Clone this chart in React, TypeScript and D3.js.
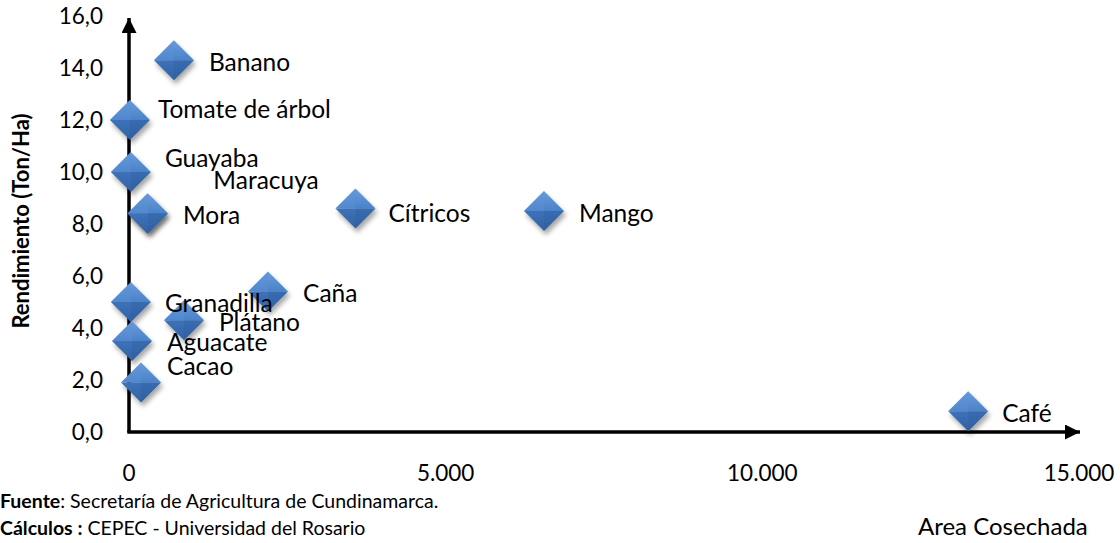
import React from "react";
import * as d3 from "d3";

const crops = ["Banano", "Tomate de árbol", "Guayaba", "Maracuya", "Mora", "Cítricos", "Mango", "Caña", "Granadilla", "Plátano", "Aguacate", "Cacao", "Café"];
const areaCosechada = [710, 15, 30, 290, 300, 3576, 6553, 2195, 30, 868, 47, 190, 13250];
const rendimiento = [14.3, 12.0, 10.0, 8.4, 8.4, 8.6, 8.5, 5.4, 5.0, 4.3, 3.5, 1.9, 0.8];
// label offsets (px) from marker centre to label start / baseline, as placed in the source chart
const labelDx = [35, 28, 34, 66, 35, 33, 35, 35, 34, 35, 35, 26, 34];
const labelDy = [11, -2, -5, -25, 10, 14, 11, 10, 10, 11, 10, -8, 11];
const xTicks = [0, 5000, 10000, 15000];
const yTicks = [0, 2, 4, 6, 8, 10, 12, 14, 16];

const W = 1120;
const H = 543;
const FONT = "Lato, 'Open Sans', sans-serif";

const locale = d3.formatLocale({ decimal: ",", thousands: ".", grouping: [3], currency: ["", ""] });
const fmtX = locale.format(",.0f");
const fmtY = locale.format(".1f");

export default function App() {
  const x = d3.scaleLinear().domain([0, 15000]).range([129, 1079]);
  const y = d3.scaleLinear().domain([0, 16]).range([432, 16]);
  const R = 20;
  const diamond = (cx: number, cy: number) => {
    const top = [cx, cy - R], right = [cx + R, cy], bottom = [cx, cy + R], left = [cx - R, cy], c = [cx, cy];
    const p = (pts: number[][]) => pts.map((q) => q.join(",")).join(" ");
    return { top, right, bottom, left, c, p };
  };
  const order = crops.map((_, i) => i);
  // draw Maracuya first so that it sits beneath Mora
  const drawOrder = [3, ...order.filter((i) => i !== 3)];

  return (
    <svg width={W} height={H} style={{ position: "absolute", left: 0, top: 0, background: "#fff" }} fontFamily={FONT}>
      <defs>
        <filter id="shadow" x="-50%" y="-50%" width="200%" height="200%">
          <feGaussianBlur in="SourceAlpha" stdDeviation="2.5" />
          <feOffset dx="2" dy="4" result="b" />
          <feComponentTransfer>
            <feFuncA type="linear" slope="0.35" />
          </feComponentTransfer>
          <feMerge>
            <feMergeNode />
            <feMergeNode in="SourceGraphic" />
          </feMerge>
        </filter>
        <linearGradient id="gTop" x1="0" y1="0" x2="0" y2="1">
          <stop offset="0" stopColor="#6a9cdc" />
          <stop offset="1" stopColor="#4a82c8" />
        </linearGradient>
        <linearGradient id="gBot" x1="0" y1="0" x2="0" y2="1">
          <stop offset="0" stopColor="#3d72b8" />
          <stop offset="1" stopColor="#3262a5" />
        </linearGradient>
        <marker id="arrowY" viewBox="0 0 10 10" refX="10" refY="5" markerWidth="15" markerHeight="15" markerUnits="userSpaceOnUse" orient="auto">
          <path d="M0,0 L10,5 L0,10 Z" fill="#000" />
        </marker>
      </defs>

      {/* axes */}
      <line x1={x(0)} y1={y(0)} x2={x(0)} y2={y(16) + 2} stroke="#000" strokeWidth={3.5} markerEnd="url(#arrowY)" />
      <line x1={x(0) - 1.75} y1={y(0)} x2={1080} y2={y(0)} stroke="#000" strokeWidth={3.5} markerEnd="url(#arrowY)" />

      {/* y tick labels */}
      {yTicks.map((t) => (
        <text key={"y" + t} x={103} y={y(t)} dy="0.36em" textAnchor="end" fontSize={22.5} fill="#000">
          {fmtY(t)}
        </text>
      ))}
      {/* x tick labels */}
      {xTicks.map((t) => (
        <text key={"x" + t} x={x(t)} y={481} textAnchor="middle" fontSize={22.5} fill="#000">
          {fmtX(t)}
        </text>
      ))}

      {/* markers */}
      {drawOrder.map((i) => {
        const cx = x(areaCosechada[i]);
        const cy = y(rendimiento[i]);
        const d = diamond(cx, cy);
        return (
          <g key={"m" + i} filter="url(#shadow)">
            <polygon points={d.p([d.left, d.top, d.right, d.c])} fill="url(#gTop)" />
            <polygon points={d.p([d.left, d.c, d.right, d.bottom])} fill="url(#gBot)" />
            <polygon points={d.p([d.left, d.top, d.c])} fill="#5f93d6" opacity={0.35} />
            <polygon points={d.p([d.right, d.bottom, d.c])} fill="#2f5c9c" opacity={0.3} />
          </g>
        );
      })}

      {/* labels */}
      {order.map((i) => (
        <text key={"l" + i} x={x(areaCosechada[i]) + labelDx[i]} y={y(rendimiento[i]) + labelDy[i]} fontSize={24.5} fill="#000">
          {crops[i]}
        </text>
      ))}

      {/* y title */}
      <text transform={`translate(29,221) rotate(-90)`} textAnchor="middle" fontSize={22} fontWeight="bold" fill="#000">
        Rendimiento (Ton/Ha)
      </text>

      {/* x title */}
      <text x={918} y={535} fontSize={24} fill="#000">Area Cosechada</text>

      {/* source notes */}
      <text x={0} y={508} fontSize={19.5} fill="#000">
        <tspan fontWeight="bold">Fuente</tspan>
        <tspan>: Secretaría de Agricultura de Cundinamarca.</tspan>
      </text>
      <text x={0} y={535} fontSize={19.5} fill="#000">
        <tspan fontWeight="bold">Cálculos :</tspan>
        <tspan> CEPEC - Universidad del Rosario</tspan>
      </text>
    </svg>
  );
}
